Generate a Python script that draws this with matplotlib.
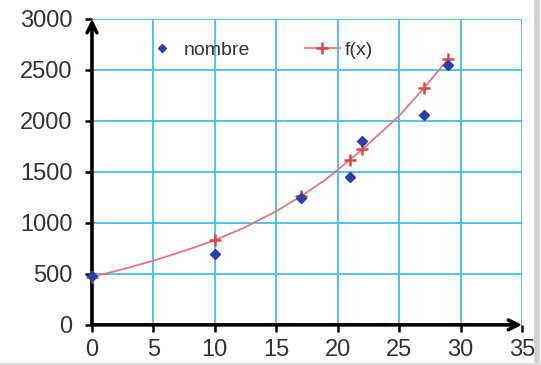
import matplotlib
matplotlib.use("Agg")
import matplotlib.pyplot as plt
from matplotlib.lines import Line2D

plt.rcParams['font.family'] = ['Liberation Sans', 'DejaVu Sans']

# Observed data ("nombre")
x_obs = [0, 10, 17, 21, 22, 27, 29]
y_obs = [480, 690, 1240, 1450, 1800, 2060, 2550]

# Model f(x) values at the data x positions (plus markers)
fx_x = [0, 10, 17, 21, 22, 27, 29]
fx_y = [470, 830, 1260, 1620, 1720, 2320, 2610]

# Smooth curve of f(x)
curve_x = [0, 2.5, 5, 7.5, 10, 12.5, 15, 17, 19, 21, 22, 25, 27, 29]
curve_y = [470, 545, 630, 725, 830, 960, 1115, 1260, 1424, 1620, 1720, 2050, 2320, 2610]

x_ticks = [0, 5, 10, 15, 20, 25, 30, 35]
y_ticks = [0, 500, 1000, 1500, 2000, 2500, 3000]

fig = plt.figure(figsize=(5.41, 3.65), dpi=100)
ax = fig.add_axes([0.170, 0.110, 0.795, 0.838])

ax.set_xlim(0, 35)
ax.set_ylim(0, 3000)
ax.set_xticks(x_ticks)
ax.set_yticks(y_ticks)
ax.grid(True, color='#45bde3', lw=1.3)
ax.set_axisbelow(True)
for s in ax.spines.values():
    s.set_visible(False)

ax.tick_params(axis='both', labelsize=17, labelcolor='#333333', color='black',
               length=5, width=1.8, direction='out')
ax.tick_params(axis='x', pad=5)
ax.tick_params(axis='y', pad=9)

# axes arrows
arrow = dict(arrowstyle='->,head_length=0.7,head_width=0.35', lw=2.6,
             color='black', shrinkA=0, shrinkB=0)
ax.annotate('', xy=(35, 0), xytext=(0, 0), xycoords='data',
            arrowprops=arrow, annotation_clip=False)
ax.annotate('', xy=(0, 3000), xytext=(0, 0), xycoords='data',
            arrowprops=arrow, annotation_clip=False)

ax.plot(curve_x, curve_y, color='#e77777', lw=1.3, zorder=3, clip_on=False)
ax.plot(fx_x, fx_y, ls='none', marker='+', ms=9, mew=1.8, color='#d84848', zorder=4, clip_on=False)
ax.plot(x_obs, y_obs, ls='none', marker='D', ms=5, color='#2c3fa8', zorder=5, clip_on=False)

h1 = Line2D([], [], ls='none', marker='D', ms=4.5, color='#2c3fa8')
h2 = Line2D([], [], color='#e77777', lw=1.3, marker='+', ms=9, mew=1.8, mec='#d84848')
leg = ax.legend([h1, h2], ['nombre', 'f(x)'], ncol=2, frameon=False,
                loc='upper left', bbox_to_anchor=(0.081, 0.985), fontsize=14,
                handlelength=1.8, columnspacing=2.8, handletextpad=0.25)
for t in leg.get_texts():
    t.set_color('#333333')

# light gray shadow edges of the original picture
fig.add_artist(Line2D([0.992, 0.992], [0.0, 1.0], transform=fig.transFigure,
                      color='#cfcfcf', lw=4))
fig.add_artist(Line2D([0.0, 1.0], [0.004, 0.004], transform=fig.transFigure,
                      color='#dddddd', lw=1.5))

fig.savefig('out.png', dpi=100)
